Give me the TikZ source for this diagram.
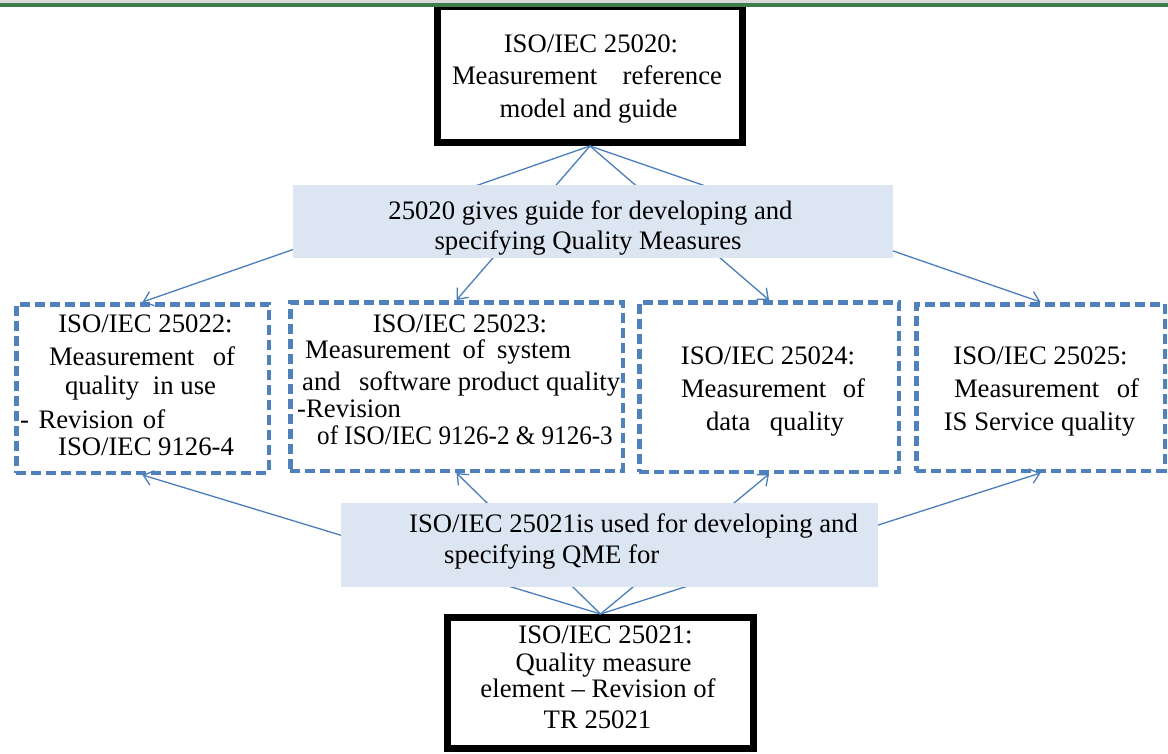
\documentclass[tikz,border=0pt]{standalone}
\usepackage{fontspec}
\setmainfont{Liberation Serif}
\usetikzlibrary{arrows.meta}
\definecolor{dashblue}{HTML}{4F81BD}
\definecolor{arrowblue}{HTML}{4A7EBB}
\definecolor{lightfill}{HTML}{DCE6F2}
\definecolor{topgreen}{HTML}{3E7D4A}
\definecolor{topgrey}{HTML}{D9D9D9}
\tikzset{
  thickbox/.style={draw=black,line width=7pt,fill=white,inner sep=0pt},
  dashbox/.style={draw=dashblue,line width=4.5pt,dash pattern=on 10pt off 5pt,inner sep=0pt},
  lightbox/.style={fill=lightfill,inner sep=0pt},
  conn/.style={draw=arrowblue,line width=1.3pt,-{Straight Barb[length=9pt,width=15pt]}},
  txt/.style={inner sep=0pt,font=\fontsize{26.7}{32}\selectfont,anchor=base,text=black},
  txtl/.style={txt,anchor=base west},
}
\begin{document}
\begin{tikzpicture}[x=1pt,y=-1pt]
\useasboundingbox[fill=white] (0,0) rectangle (1168,753);
% boxes
\node[thickbox,minimum width=305,minimum height=136] (top) at (590,74.5) {};
\node[thickbox,minimum width=306,minimum height=131] (bot) at (600.5,683) {};
\node[dashbox,minimum width=252.5,minimum height=168.5] (ba) at (142.5,388.5) {};
\node[dashbox,minimum width=332.5,minimum height=168.5] (bb) at (456.5,386.5) {};
\node[dashbox,minimum width=259.5,minimum height=169.5] (bc) at (769,387) {};
\node[dashbox,minimum width=248.5,minimum height=166.5] (bd) at (1040.5,387.5) {};
% header line
\draw[topgrey,line width=3pt] (0,1.5) -- (1168,1.5);
\draw[topgreen,line width=3.4pt] (0,5) -- (1168,5);
% connectors
\draw[conn] (top.south) -- (ba.north);
\draw[conn] (top.south) -- (bb.north);
\draw[conn] (top.south) -- (bc.north);
\draw[conn] (top.south) -- (bd.north);
\draw[conn] (bot.north) -- (ba.south);
\draw[conn] (bot.north) -- (bb.south);
\draw[conn] (bot.north) -- (bc.south);
\draw[conn] (bot.north) -- (bd.south);
% light boxes
\node[lightbox,minimum width=600,minimum height=73] (l1) at (593,221.5) {};
\node[lightbox,minimum width=537,minimum height=84] (l2) at (609.5,545) {};
% texts: top box
\node[txt] (t1) at (591,52) {ISO/IEC 25020:};
\node[txt] (t2) at (587,84) {\makebox[270pt][l]{Measurement\hfill reference}};
\node[txt] (t3) at (588.5,117) {model and guide};
% light box 1
\node[txt] (g1) at (590.5,219) {25020 gives guide for developing and};
\node[txt] (g2) at (588,249) {specifying Quality Measures};
% box A
\node[txt] (a1) at (145.5,332) {ISO/IEC 25022:};
\node[txt] (a2) at (142,365) {\makebox[186pt][l]{Measurement\hfill of}};
\node[txt] (a3) at (140.5,394) {\makebox[151pt][l]{quality\hfill in use}};
\node[txtl] (a4) at (20,428) {\makebox[145pt][s]{- Revision of}};
\node[txt] (a5) at (146,455) {ISO/IEC 9126-4};
% box B
\node[txt] (b1) at (460,332) {ISO/IEC 25023:};
\node[txtl] (b2) at (305,358) {\makebox[266pt][s]{Measurement of system}};
\node[txtl] (b3) at (302,390) {\makebox[318pt][l]{and\hfill software product quality}};
\node[txtl] (b4) at (297,417) {-Revision};
\node[txt] (b5) at (465,444) {\scalebox{0.94}[1]{of ISO/IEC 9126-2 \& 9126-3}};
% box C
\node[txt] (c1) at (768,364) {ISO/IEC 25024:};
\node[txt] (c2) at (773,397) {\makebox[184pt][l]{Measurement\hfill of}};
\node[txt] (c3) at (775,430) {\makebox[138pt][l]{data\hfill quality}};
% box D
\node[txt] (d1) at (1040.5,364) {ISO/IEC 25025:};
\node[txt] (d2) at (1046.5,397) {\makebox[185pt][l]{Measurement\hfill of}};
\node[txt] (d3) at (1039.5,430) {IS Service quality};
% light box 2
\node[txtl] (h1) at (409,532) {ISO/IEC 25021is used for developing and};
\node[txtl] (h2) at (444,563) {specifying QME for};
% bottom box
\node[txt] (e1) at (605.5,643) {ISO/IEC 25021:};
\node[txt] (e2) at (603.5,671) {Quality measure};
\node[txt] (e3) at (598,697) {element -- Revision of};
\node[txt] (e4) at (597.5,728) {TR 25021};
\end{tikzpicture}
\end{document}
